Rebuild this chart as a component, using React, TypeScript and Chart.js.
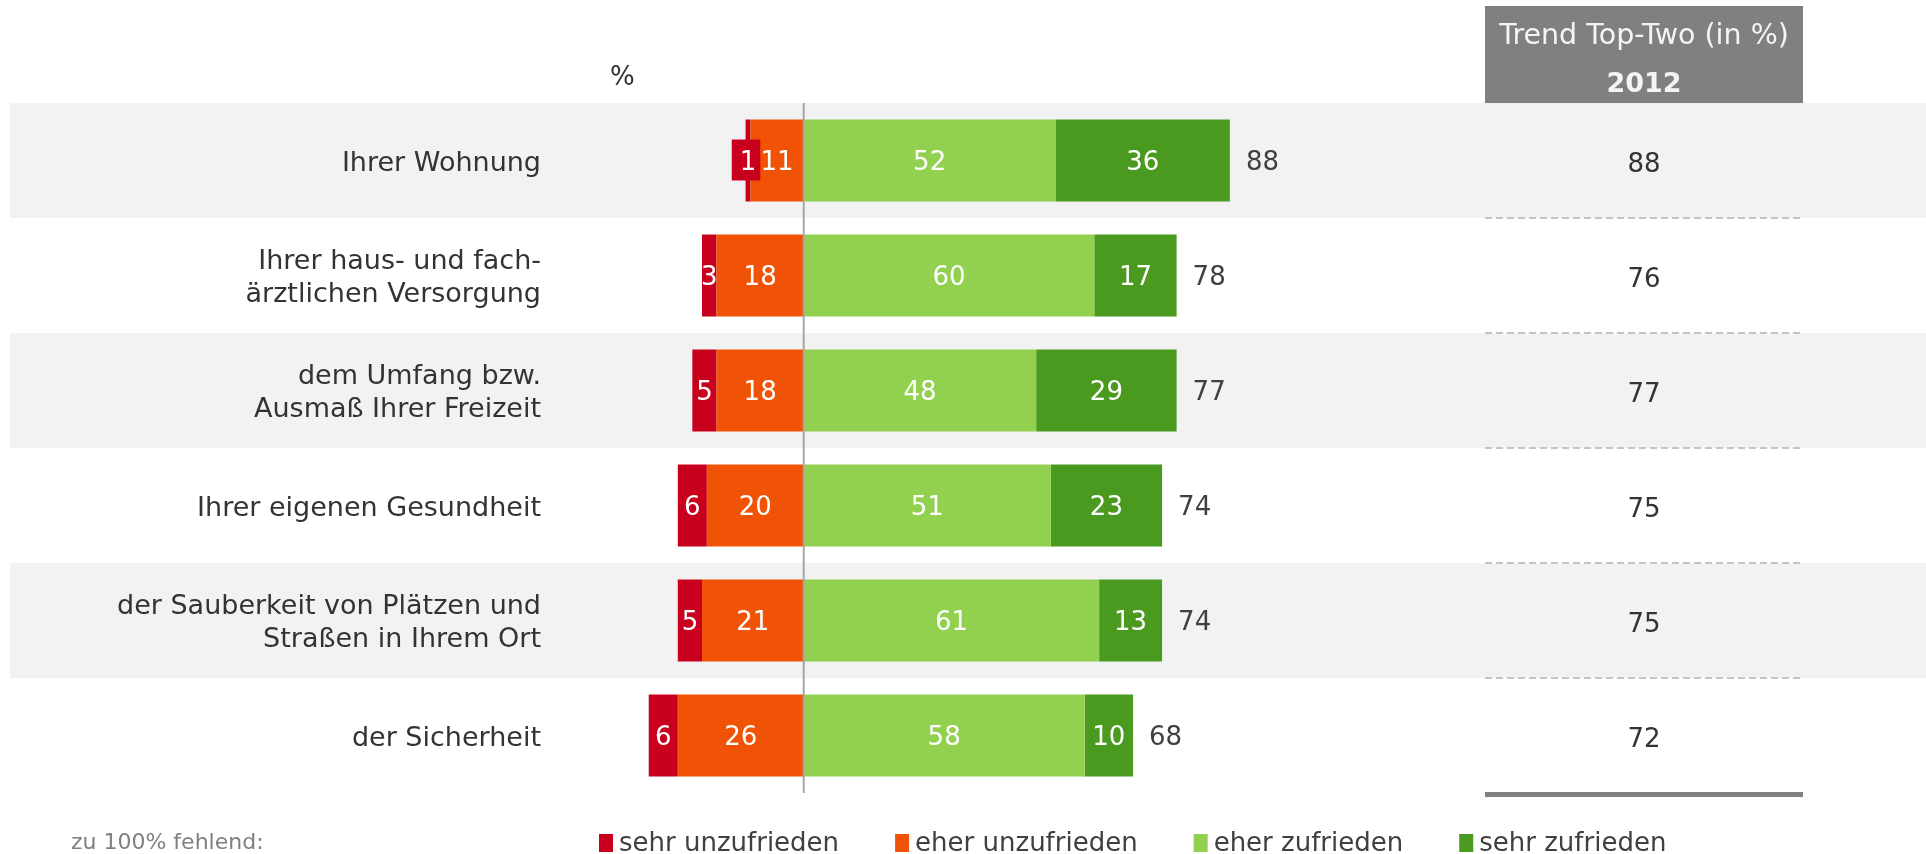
import React, { useEffect, useRef } from "react";
import { Chart, registerables } from "chart.js";

Chart.register(...registerables);

// ---------- data ----------
const categories: string[][] = [
  ["Ihrer Wohnung"],
  ["Ihrer haus- und fach-", "ärztlichen Versorgung"],
  ["dem Umfang bzw.", "Ausmaß Ihrer Freizeit"],
  ["Ihrer eigenen Gesundheit"],
  ["der Sauberkeit von Plätzen und", "Straßen in Ihrem Ort"],
  ["der Sicherheit"],
];
const sehrUnzufrieden = [1, 3, 5, 6, 5, 6];
const eherUnzufrieden = [11, 18, 18, 20, 21, 26];
const eherZufrieden = [52, 60, 48, 51, 61, 58];
const sehrZufrieden = [36, 17, 29, 23, 13, 10];
const topTwo = [88, 78, 77, 74, 74, 68];
const trend2012 = [88, 76, 77, 75, 75, 72];
const legendNames = ["sehr unzufrieden", "eher unzufrieden", "eher zufrieden", "sehr zufrieden"];
const legendColors = ["#C8001E", "#F05305", "#92D050", "#4A9A1F"];
const trendTitle = "Trend Top-Two (in %)";
const trendYear = "2012";
const axisUnit = "%";
const footnote = "zu 100% fehlend:";
const xMin = -40;
const xMax = 100;

const FONT = "'DejaVu Sans', Verdana, sans-serif";
const AREA_TOP = 103;
const AREA_BOTTOM = 793;

const overlayPlugin = {
  id: "overlay",
  beforeDraw(chart: any) {
    const { ctx, chartArea, scales } = chart;
    const y = scales.y;
    const n = categories.length;
    const pitch = (chartArea.bottom - chartArea.top) / n;
    ctx.save();
    ctx.fillStyle = "#F2F2F2";
    for (let i = 0; i < n; i += 2) {
      const c = y.getPixelForValue(i);
      ctx.fillRect(10, c - pitch / 2, chart.width - 10, pitch);
    }
    ctx.restore();
  },
  afterDatasetsDraw(chart: any) {
    const { ctx, chartArea, scales } = chart;
    const x = scales.x;
    const y = scales.y;
    const n = categories.length;
    const pitch = (chartArea.bottom - chartArea.top) / n;
    ctx.save();

    // zero line
    const x0 = x.getPixelForValue(0);
    ctx.strokeStyle = "#A6A6A6";
    ctx.lineWidth = 2;
    ctx.beginPath();
    ctx.moveTo(x0, chartArea.top);
    ctx.lineTo(x0, chartArea.bottom);
    ctx.stroke();

    // segment labels
    ctx.font = `26px ${FONT}`;
    ctx.textAlign = "center";
    ctx.textBaseline = "alphabetic";
    chart.data.datasets.forEach((ds: any, di: number) => {
      const meta = chart.getDatasetMeta(di);
      meta.data.forEach((el: any, i: number) => {
        const v = Math.abs(ds.data[i]);
        const cx = (el.x + el.base) / 2;
        const txt = String(v);
        if (v <= 1) {
          const w = ctx.measureText(txt).width + 12;
          ctx.fillStyle = ds.backgroundColor;
          ctx.fillRect(cx - w / 2 - 2, el.y - 21, w, 41);
        }
        ctx.fillStyle = "#FFFFFF";
        ctx.fillText(txt, cx, el.y + 9);
      });
    });

    // totals
    const lastMeta = chart.getDatasetMeta(chart.data.datasets.length - 1);
    ctx.fillStyle = "#404040";
    ctx.textAlign = "left";
    lastMeta.data.forEach((el: any, i: number) => {
      ctx.fillText(String(topTwo[i]), el.x + 16, el.y + 9);
    });

    // "%" label
    ctx.font = `26px ${FONT}`;
    ctx.fillStyle = "#333333";
    ctx.fillText(axisUnit, chartArea.left, 85);

    // trend column
    const tL = 1485, tR = 1803, tC = (tL + tR) / 2;
    ctx.fillStyle = "#808080";
    ctx.fillRect(tL, 6, tR - tL, chartArea.top - 6);
    ctx.fillStyle = "#F4F4F4";
    ctx.textAlign = "center";
    ctx.font = `28.5px ${FONT}`;
    ctx.fillText(trendTitle, tC, 44);
    ctx.font = `bold 27px ${FONT}`;
    ctx.fillText(trendYear, tC, 92);

    ctx.font = `26px ${FONT}`;
    ctx.fillStyle = "#333333";
    for (let i = 0; i < n; i++) {
      const c = y.getPixelForValue(i);
      ctx.fillText(String(trend2012[i]), tC, c + 11);
    }
    ctx.strokeStyle = "#C4C4C4";
    ctx.lineWidth = 2;
    ctx.setLineDash([7, 4]);
    for (let i = 0; i < n - 1; i++) {
      const yy = y.getPixelForValue(i) + pitch / 2;
      ctx.beginPath();
      ctx.moveTo(tL, yy);
      ctx.lineTo(tR, yy);
      ctx.stroke();
    }
    ctx.setLineDash([]);
    ctx.fillStyle = "#808080";
    ctx.fillRect(tL, chartArea.bottom - 1, tR - tL, 5);

    // footnote
    ctx.textAlign = "left";
    ctx.font = `22px ${FONT}`;
    ctx.fillStyle = "#808080";
    ctx.fillText(footnote, 71, 849);

    // legend
    ctx.font = `26px ${FONT}`;
    let lx = 599;
    legendNames.forEach((name, i) => {
      ctx.fillStyle = legendColors[i];
      ctx.fillRect(lx, 834, 14, 18);
      ctx.fillStyle = "#404040";
      ctx.fillText(name, lx + 20, 851);
      lx += 20 + ctx.measureText(name).width + 56;
    });

    ctx.restore();
  },
};

export default function App() {
  const ref = useRef<HTMLCanvasElement | null>(null);

  useEffect(() => {
    if (!ref.current) return;
    const chart: any = new Chart(ref.current, {
      type: "bar",
      data: {
        labels: categories,
        datasets: [
          {
            label: legendNames[1],
            data: eherUnzufrieden.map((v) => -v),
            backgroundColor: legendColors[1],
          },
          {
            label: legendNames[0],
            data: sehrUnzufrieden.map((v) => -v),
            backgroundColor: legendColors[0],
          },
          {
            label: legendNames[2],
            data: eherZufrieden,
            backgroundColor: legendColors[2],
          },
          {
            label: legendNames[3],
            data: sehrZufrieden,
            backgroundColor: legendColors[3],
          },
        ].map((d) => ({ ...d, barPercentage: 0.713, categoryPercentage: 1, borderWidth: 0 })),
      },
      options: {
        indexAxis: "y",
        responsive: true,
        maintainAspectRatio: false,
        animation: false,
        layout: { padding: { top: AREA_TOP, bottom: 854 - AREA_BOTTOM, left: 0, right: 638 } },
        plugins: { legend: { display: false }, tooltip: { enabled: false } },
        scales: {
          x: { type: "linear", min: xMin, max: xMax, stacked: true, display: false },
          y: {
            type: "category",
            stacked: true,
            grid: { display: false, drawTicks: false },
            border: { display: false },
            ticks: {
              color: "#333333",
              padding: 69,
              labelOffset: 3,
              crossAlign: "near",
              font: { family: FONT, size: 27, lineHeight: 1.24 },
            },
            afterFit: (s: any) => {
              s.width = 610;
              s.paddingTop = 0;
              s.paddingBottom = 0;
            },
          },
        },
      } as any,
      plugins: [overlayPlugin],
    });
    // correct the plot area so that it spans exactly the intended rows
    const pad = chart.options.layout.padding;
    const dTop = AREA_TOP - chart.chartArea.top;
    const dBottom = chart.chartArea.bottom - AREA_BOTTOM;
    if (Math.abs(dTop) > 0.5 || Math.abs(dBottom) > 0.5) {
      pad.top += dTop;
      pad.bottom += dBottom;
      chart.update();
    }
    return () => chart.destroy();
  }, []);

  return (
    <div style={{ position: "fixed", left: 0, top: 0, width: "1926px", height: "854px", background: "#fff" }}>
      <canvas ref={ref} />
    </div>
  );
}
